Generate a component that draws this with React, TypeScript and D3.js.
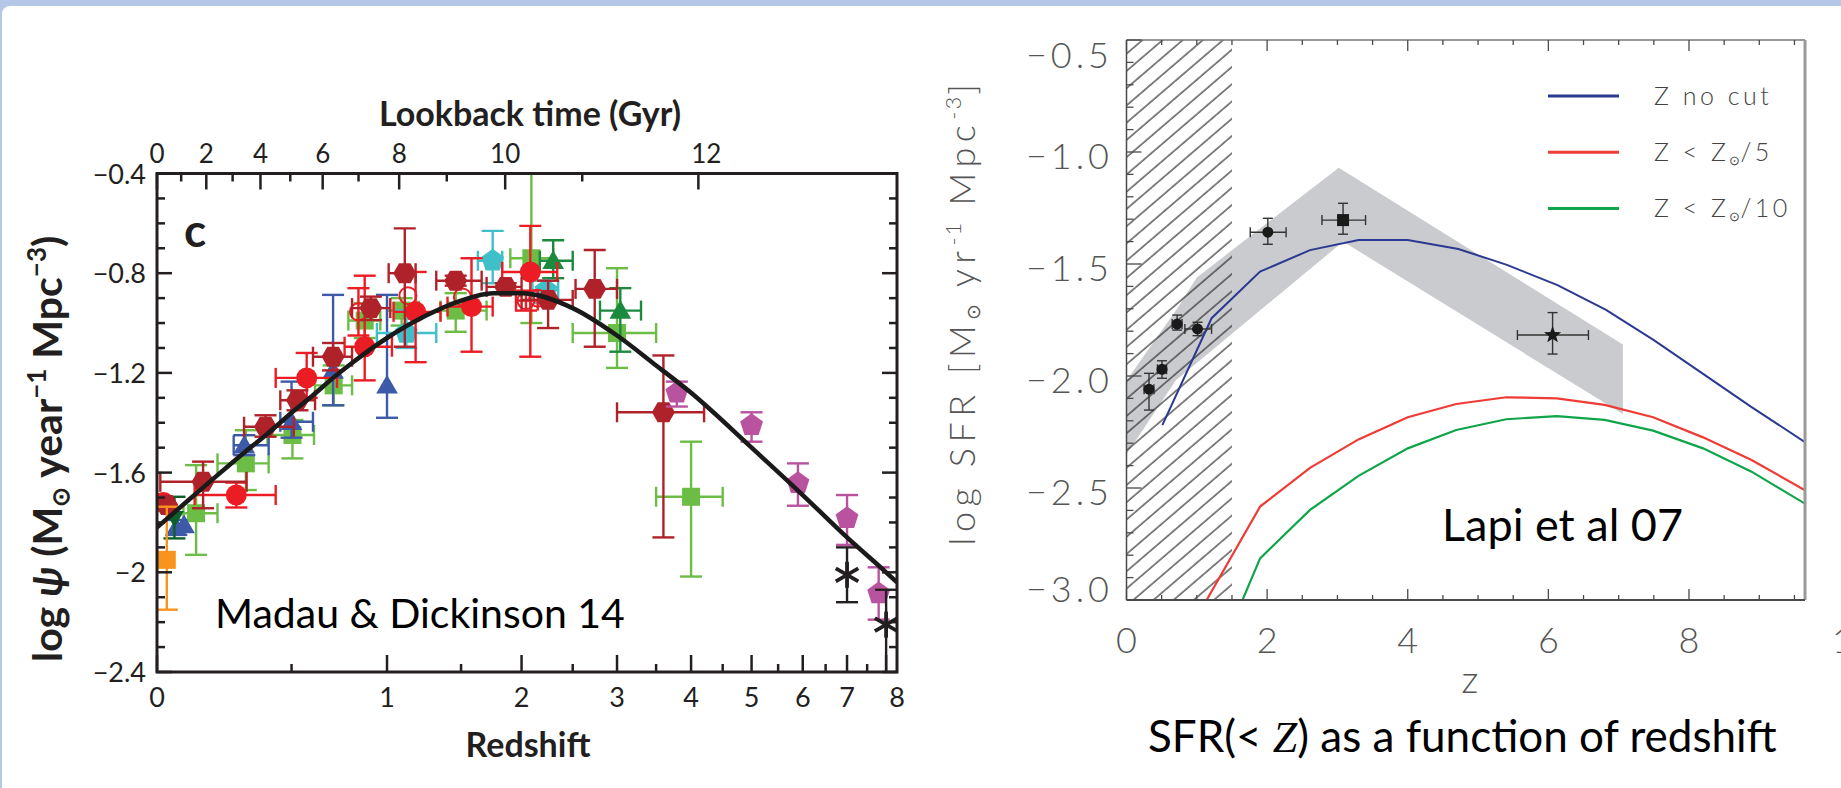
import React from 'react';
import * as d3 from 'd3';

type Pt = [number, number, number | null, number | null, number | null, number | null];
// [z, log value, z low, z high, value high, value low]

const W = 1841;
const H = 788;

// ---------------- Madau & Dickinson panel ----------------
const mdYMajor = [-0.4, -0.8, -1.2, -1.6, -2.0, -2.4];
const mdYLabels = ['−0.4', '−0.8', '−1.2', '−1.6', '−2', '−2.4'];
const mdZMajor = [0, 1, 2, 3, 4, 5, 6, 7, 8];
const mdZMinor = [0.5, 1.5, 2.5, 3.5, 4.5, 5.5, 6.5, 7.5];
const lookbackMajor = [0, 2, 4, 6, 8, 10, 12];
const lookbackMinor = [1, 3, 5, 7, 9, 11];

// best-fit curve
const fitZ = [0, 0.1, 0.2, 0.3, 0.4, 0.5, 0.6, 0.7, 0.8, 1.0, 1.25, 1.5, 1.75, 2.0, 2.5, 3.0, 3.5, 4.0, 5.0, 6.0, 7.0, 8.0, 8.3];
const fitLog = [-1.82, -1.71, -1.61, -1.52, -1.44, -1.36, -1.29, -1.22, -1.16, -1.06, -0.97, -0.91, -0.88, -0.88, -0.94, -1.05, -1.17, -1.28, -1.5, -1.69, -1.86, -2.0, -2.04];

const greenSquares: Pt[] = [
  [0.125, -1.763, 0.083, 0.2, -1.57, -1.93],
  [0.307, -1.563, 0.2, 0.4, -1.43, -1.67],
  [0.504, -1.449, 0.395, 0.605, -1.389, -1.543],
  [0.703, -1.25, 0.61, 0.8, -1.17, -1.33],
  [0.87, -0.99, 0.78, 0.96, -0.92, -1.06],
  [1.09, -0.95, 1.0, 1.2, -0.9, -1.01],
  [1.46, -0.95, 1.35, 1.7, -0.88, -1.035],
  [2.09, -0.74, 1.9, 2.3, -0.36, -1.0],
  [3.0, -1.04, 2.5, 3.5, -0.78, -1.18],
  [4.0, -1.697, 3.5, 4.5, -1.476, -2.017],
];
const blueTriangles: Pt[] = [
  [0.06, -1.82, null, null, -1.79, -1.85],
  [0.085, -1.81, null, null, null, null],
  [0.301, -1.49, 0.26, 0.4, -1.45, -1.53],
  [0.5, -1.396, 0.45, 0.6, -1.235, -1.46],
  [0.7, -1.19, null, null, -0.887, -1.33],
  [1.0, -1.25, null, null, -0.887, -1.38],
];
const darkGreenUp: Pt[] = [
  [2.3, -0.75, 2.17, 2.5, -0.668, -0.82],
  [3.04, -0.95, 2.8, 3.3, -0.86, -1.115],
];
const darkGreenDown: Pt[] = [[0.054, -1.784, null, null, -1.697, -1.864]];
const cyanPentagons: Pt[] = [
  [1.12, -1.04, 0.94, 1.32, -0.95, -1.1],
  [1.75, -0.75, 1.63, 1.83, -0.63, -0.84],
  [2.23, -0.868, 2.1, 2.35, -0.83, -0.92],
];
const redOpen: Pt[] = [
  [0.835, -0.955, null, null, -0.86, -1.05],
  [1.13, -0.89, null, null, null, null],
  [1.51, -0.895, null, null, null, null],
  [2.04, -0.91, 1.95, 2.15, -0.87, -0.95],
  [2.15, -0.9, null, null, null, null],
];
const redFilled: Pt[] = [
  [0.02, -1.72, null, null, null, null],
  [0.27, -1.69, 0.12, 0.43, -1.64, -1.74],
  [0.57, -1.22, 0.43, 0.72, -1.12, -1.3],
  [0.87, -1.095, 0.76, 1.03, -0.81, -1.23],
  [1.18, -0.955, 1.04, 1.35, -0.795, -1.157],
  [1.58, -0.934, 1.4, 1.75, -0.74, -1.115],
  [2.08, -0.795, 1.83, 2.34, -0.61, -1.135],
];
const brownHexagons: Pt[] = [
  [0.03, -1.73, null, null, null, null],
  [0.149, -1.637, 0.01, 0.31, -1.556, -1.743],
  [0.387, -1.416, 0.3, 0.51, -1.37, -1.456],
  [0.527, -1.31, 0.45, 0.61, -1.27, -1.35],
  [0.7, -1.135, 0.6, 0.8, -1.08, -1.19],
  [0.905, -0.94, 0.8, 1.02, -0.894, -0.988],
  [1.11, -0.8, 1.01, 1.18, -0.62, -1.095],
  [1.46, -0.83, 1.32, 1.66, -0.81, -0.85],
  [1.86, -0.855, 1.7, 2.0, -0.84, -0.88],
  [2.25, -0.907, 2.0, 2.5, -0.83, -1.02],
  [2.74, -0.863, 2.53, 3.0, -0.707, -1.095],
  [3.6, -1.358, 3.0, 4.2, -1.13, -1.86],
];
const magentaPentagons: Pt[] = [
  [3.79, -1.28, null, null, -1.235, -1.335],
  [5.0, -1.41, null, null, -1.358, -1.476],
  [5.9, -1.643, null, null, -1.563, -1.733],
  [7.0, -1.783, null, null, -1.69, -1.89],
  [7.8, -2.085, null, null, -1.98, -2.19],
];
const orangeSquares: Pt[] = [[0.03, -1.95, null, null, -1.737, -2.15]];
const blackStars: Pt[] = [
  [7.0, -2.01, null, null, -1.9, -2.12],
  [8.0, -2.21, null, null, -2.07, -2.45],
];

// ---------------- Lapi et al. panel ----------------
const lpYMajor = [-0.5, -1.0, -1.5, -2.0, -2.5, -3.0];
const lpYLabels = ['−0.5', '−1.0', '−1.5', '−2.0', '−2.5', '−3.0'];
const lpXMajor = [0, 2, 4, 6, 8];

const noCutZ = [0.51, 1.21, 1.9, 2.61, 3.3, 4.0, 4.72, 5.41, 6.13, 6.82, 7.5, 8.19, 8.88, 9.65];
const noCutV = [-2.219, -1.742, -1.534, -1.438, -1.393, -1.393, -1.433, -1.504, -1.594, -1.705, -1.84, -1.988, -2.137, -2.295];
const fifthZ = [1.14, 1.9, 2.61, 3.3, 4.0, 4.69, 5.4, 6.12, 6.8, 7.49, 8.2, 8.89, 9.65];
const fifthV = [-3.0, -2.583, -2.41, -2.283, -2.184, -2.125, -2.095, -2.1, -2.129, -2.184, -2.274, -2.375, -2.51];
const tenthZ = [1.65, 1.9, 2.61, 3.3, 4.0, 4.69, 5.4, 6.12, 6.8, 7.49, 8.2, 8.89, 9.65];
const tenthV = [-3.0, -2.814, -2.598, -2.446, -2.323, -2.241, -2.193, -2.179, -2.196, -2.244, -2.323, -2.427, -2.57];

const bandZ = [0, 0.72, 1.0, 3.02, 7.06, 7.06, 3.08, 0.7, 0];
const bandV = [-2.02, -1.7, -1.56, -1.07, -1.86, -2.17, -1.4, -2.02, -2.35];

const obsCircles: Pt[] = [
  [0.32, -2.059, 0.25, 0.39, -1.988, -2.152],
  [0.505, -1.97, 0.44, 0.57, -1.932, -2.01],
  [0.72, -1.768, 0.65, 0.79, -1.728, -1.795],
  [1.01, -1.79, 0.83, 1.21, -1.76, -1.82],
  [2.01, -1.358, 1.76, 2.27, -1.296, -1.412],
];
const obsSquares: Pt[] = [[3.08, -1.304, 2.78, 3.4, -1.229, -1.367]];
const obsStars: Pt[] = [[6.06, -1.817, 5.56, 6.57, -1.717, -1.902]];

const legendNames = ['Z no cut', 'Z < Z', 'Z < Z'];
const legendSuffix = ['', '/5', '/10'];
const legendColors = ['#2b3990', '#ef3b36', '#10a54a'];

// ---------------- helpers ----------------
const LATO = "'Lato', 'Open Sans', 'Liberation Sans', sans-serif";

function polyPath(cx: number, cy: number, n: number, r: number, rot: number) {
  const pts = d3.range(n).map((i) => {
    const a = rot + (i * 2 * Math.PI) / n;
    return [cx + r * Math.sin(a), cy - r * Math.cos(a)];
  });
  return 'M' + pts.map((p) => p[0].toFixed(2) + ',' + p[1].toFixed(2)).join('L') + 'Z';
}

function starPath(cx: number, cy: number, ro: number, ri: number) {
  const pts = d3.range(10).map((i) => {
    const a = (i * Math.PI) / 5;
    const r = i % 2 === 0 ? ro : ri;
    return [cx + r * Math.sin(a), cy - r * Math.cos(a)];
  });
  return 'M' + pts.map((p) => p[0].toFixed(2) + ',' + p[1].toFixed(2)).join('L') + 'Z';
}

// lookback time (Gyr) -> redshift, flat LCDM with H0=70, Om=0.3
const hubbleTime = 977.8 / 70;
const omM = 0.3;
const omL = 0.7;
const cA = ((2 / 3) * hubbleTime) / Math.sqrt(omL);
const cB = Math.sqrt(omL / omM);
const ageNow = cA * Math.asinh(cB);
function zAtLookback(t: number) {
  const s = Math.sinh((ageNow - t) / cA) / cB;
  return Math.pow(s, -2 / 3) - 1;
}

function ErrorBars({
  pts, sx, sy, color, width, capY, capX,
}: {
  pts: Pt[]; sx: (z: number) => number; sy: (v: number) => number; color: string; width: number; capY: number; capX: number;
}) {
  return (
    <g stroke={color} strokeWidth={width} fill="none">
      {pts.map((p, i) => {
        const cx = sx(p[0]);
        const cy = sy(p[1]);
        const els: React.ReactNode[] = [];
        if (p[2] !== null && p[3] !== null) {
          const a = sx(p[2]);
          const b = sx(p[3]);
          els.push(<line key="h" x1={a} x2={b} y1={cy} y2={cy} />);
          els.push(<line key="ha" x1={a} x2={a} y1={cy - capX} y2={cy + capX} />);
          els.push(<line key="hb" x1={b} x2={b} y1={cy - capX} y2={cy + capX} />);
        }
        if (p[4] !== null && p[5] !== null) {
          const a = sy(p[4]);
          const b = sy(p[5]);
          els.push(<line key="v" x1={cx} x2={cx} y1={a} y2={b} />);
          els.push(<line key="va" x1={cx - capY} x2={cx + capY} y1={a} y2={a} />);
          els.push(<line key="vb" x1={cx - capY} x2={cx + capY} y1={b} y2={b} />);
        }
        return <g key={i}>{els}</g>;
      })}
    </g>
  );
}

function MadauPanel() {
  const x0 = 157, x1 = 897, y0 = 173.5, y1 = 672;
  const xs = d3.scaleLog().domain([1, 9.3]).range([x0, x1]);
  const sx = (z: number) => xs(1 + z);
  const sy = d3.scaleLinear().domain([-0.4, -2.4]).range([y0, y1]);
  const ink = '#231f20';

  const fitLine = d3
    .line<number>()
    .x((i) => sx(fitZ[i]))
    .y((i) => sy(fitLog[i]))
    .curve(d3.curveMonotoneX);

  const yMinor = d3.range(0, 21).map((i) => -0.4 - i * 0.1);

  const series: { pts: Pt[]; color: string; kind: string }[] = [
    { pts: greenSquares, color: '#6cbd45', kind: 'square' },
    { pts: blueTriangles, color: '#3d5aa8', kind: 'tri' },
    { pts: darkGreenUp, color: '#1b8a3e', kind: 'tri' },
    { pts: darkGreenDown, color: '#0f5f2c', kind: 'triDown' },
    { pts: cyanPentagons, color: '#3fc0c9', kind: 'pent' },
    { pts: redOpen, color: '#ec1c24', kind: 'open' },
    { pts: redFilled, color: '#ec1c24', kind: 'circle' },
    { pts: brownHexagons, color: '#b0222a', kind: 'hex' },
    { pts: magentaPentagons, color: '#b9529f', kind: 'pent' },
    { pts: orangeSquares, color: '#f7941d', kind: 'square' },
    { pts: blackStars, color: '#231f20', kind: 'asterisk' },
  ];

  const marker = (kind: string, cx: number, cy: number, color: string, key: number) => {
    switch (kind) {
      case 'square':
        return <rect key={key} x={cx - 9} y={cy - 9} width={18} height={18} fill={color} />;
      case 'tri':
        return <path key={key} d={polyPath(cx, cy + 2, 3, 12.5, 0)} fill={color} />;
      case 'triDown':
        return <path key={key} d={polyPath(cx, cy - 2, 3, 11, Math.PI)} fill={color} />;
      case 'pent':
        return <path key={key} d={polyPath(cx, cy, 5, 12, 0)} fill={color} />;
      case 'open':
        return <circle key={key} cx={cx} cy={cy} r={8.5} fill="none" stroke={color} strokeWidth={2} />;
      case 'circle':
        return <circle key={key} cx={cx} cy={cy} r={10.5} fill={color} />;
      case 'hex':
        return <path key={key} d={polyPath(cx, cy, 6, 11.5, Math.PI / 6)} fill={color} />;
      case 'asterisk':
        return (
          <g key={key} stroke={color} strokeWidth={3.8}>
            {[90, 30, 150].map((a) => {
              const r = 13;
              const dx = r * Math.cos((a * Math.PI) / 180);
              const dy = r * Math.sin((a * Math.PI) / 180);
              return <line key={a} x1={cx - dx} y1={cy - dy} x2={cx + dx} y2={cy + dy} />;
            })}
          </g>
        );
      default:
        return null;
    }
  };

  return (
    <g>
      <defs>
        <clipPath id="mdClip">
          <rect x={x0} y={y0} width={x1 - x0} height={y1 - y0} />
        </clipPath>
      </defs>

      {/* data */}
      <g clipPath="url(#mdClip)">
        {series.map((s, si) => (
          <g key={si}>
            <ErrorBars pts={s.pts} sx={sx} sy={sy} color={s.color} width={2.4} capY={11} capX={10} />
            {s.pts.map((p, i) => marker(s.kind, sx(p[0]), sy(p[1]), s.color, i))}
          </g>
        ))}
        <path d={fitLine(d3.range(fitZ.length)) || ''} fill="none" stroke="#1a1a1a" strokeWidth={4.5} />
      </g>

      {/* frame */}
      <rect x={x0} y={y0} width={x1 - x0} height={y1 - y0} fill="none" stroke={ink} strokeWidth={3} />

      {/* ticks */}
      <g stroke={ink} strokeWidth={2.5}>
        {yMinor.map((v, i) => {
          const len = i % 4 === 0 ? 15 : 8;
          return (
            <g key={i}>
              <line x1={x0} x2={x0 + len} y1={sy(v)} y2={sy(v)} />
              <line x1={x1} x2={x1 - len} y1={sy(v)} y2={sy(v)} />
            </g>
          );
        })}
        {mdZMajor.map((z) => (
          <line key={'M' + z} x1={sx(z)} x2={sx(z)} y1={y1} y2={y1 - 17} />
        ))}
        {mdZMinor.map((z) => (
          <line key={'m' + z} x1={sx(z)} x2={sx(z)} y1={y1} y2={y1 - 8} />
        ))}
        {lookbackMajor.map((t) => (
          <line key={'T' + t} x1={sx(zAtLookback(t))} x2={sx(zAtLookback(t))} y1={y0} y2={y0 + 16} />
        ))}
        {lookbackMinor.map((t) => (
          <line key={'t' + t} x1={sx(zAtLookback(t))} x2={sx(zAtLookback(t))} y1={y0} y2={y0 + 8} />
        ))}
      </g>

      {/* tick labels */}
      <g fontFamily={LATO} fill={ink}>
        {mdYMajor.map((v, i) => (
          <text key={v} x={146} y={sy(v) + 10} fontSize={27} textAnchor="end">
            {mdYLabels[i]}
          </text>
        ))}
        {mdZMajor.map((z) => (
          <text key={z} x={sx(z) + (z === 8 ? 11 : 0)} y={707} fontSize={27} textAnchor="middle">
            {String(z)}
          </text>
        ))}
        {lookbackMajor.map((t) => (
          <text key={t} x={sx(zAtLookback(t)) + (t === 12 ? 8 : 0)} y={163} fontSize={26} textAnchor="middle">
            {String(t)}
          </text>
        ))}
      </g>

      {/* axis titles */}
      <g fontFamily={LATO} fontWeight={700} fill={ink}>
        <text x={530} y={126} fontSize={34} textAnchor="middle">
          Lookback time (Gyr)
        </text>
        <text x={528} y={757} fontSize={34} textAnchor="middle">
          Redshift
        </text>
        <text x={184} y={247} fontSize={46}>
          c
        </text>
        <text transform="translate(62,662) rotate(-90)" fontSize={41} textAnchor="start">
          <tspan>log </tspan>
          <tspan fontStyle="italic">ψ</tspan>
          <tspan> (M</tspan>
          <tspan fontSize={24} dy={7}>⊙</tspan>
          <tspan dy={-7}> year</tspan>
          <tspan fontSize={26} dy={-16}>−1</tspan>
          <tspan dy={16}> Mpc</tspan>
          <tspan fontSize={26} dy={-16}>−3</tspan>
          <tspan dy={16}>)</tspan>
        </text>
      </g>

      <text x={215} y={628} fontFamily={LATO} fontSize={41} fill="#000">
        Madau &amp; Dickinson 14
      </text>
    </g>
  );
}

function LapiPanel() {
  const x0 = 1126.5, x1 = 1805, y0 = 40, y1 = 600;
  const sx = d3.scaleLinear().domain([0, 9.65]).range([x0, x1]);
  const sy = d3.scaleLinear().domain([-0.5, -3.0]).range([y0, y1]);
  const axis = '#4a4a4a';
  const thin = '#555';

  const lineOf = (zs: number[], vs: number[]) =>
    d3
      .line<number>()
      .x((i) => sx(zs[i]))
      .y((i) => sy(vs[i]))(d3.range(zs.length)) || '';

  const bandPts = bandZ.map((z, i) => sx(z).toFixed(1) + ',' + sy(bandV[i]).toFixed(1)).join(' ');

  const yTicks = d3.range(0, 26).map((i) => -0.5 - i * 0.1);
  const xTicks = d3.range(0, 20).map((i) => i * 0.5);

  const yLabelShift = (i: number) => (i === 0 ? 15 : i === lpYMajor.length - 1 ? -11 : 4);

  return (
    <g>
      <defs>
        <clipPath id="lpClip">
          <rect x={x0} y={y0} width={x1 - x0} height={y1 - y0} />
        </clipPath>
        <pattern id="hatch" patternUnits="userSpaceOnUse" width={24} height={13.1} patternTransform="rotate(-40.6)">
          <line x1={0} x2={24} y1={1} y2={1} stroke="#1e1e1e" strokeWidth={1.1} />
        </pattern>
      </defs>

      <g clipPath="url(#lpClip)">
        <polygon points={bandPts} fill="#c9cbce" />
        <rect x={sx(0)} y={y0} width={sx(1.5) - sx(0)} height={y1 - y0} fill="url(#hatch)" />
        <path d={lineOf(noCutZ, noCutV)} fill="none" stroke={legendColors[0]} strokeWidth={2} />
        <path d={lineOf(fifthZ, fifthV)} fill="none" stroke={legendColors[1]} strokeWidth={2.2} />
        <path d={lineOf(tenthZ, tenthV)} fill="none" stroke={legendColors[2]} strokeWidth={2.2} />
      </g>

      {/* observations */}
      <ErrorBars pts={obsCircles} sx={sx} sy={sy} color="#333" width={1.4} capY={5} capX={5} />
      <ErrorBars pts={obsSquares} sx={sx} sy={sy} color="#333" width={1.4} capY={5} capX={5} />
      <ErrorBars pts={obsStars} sx={sx} sy={sy} color="#333" width={1.4} capY={5} capX={5} />
      {obsCircles.map((p, i) => (
        <circle key={i} cx={sx(p[0])} cy={sy(p[1])} r={5.5} fill="#1a1a1a" />
      ))}
      {obsSquares.map((p, i) => (
        <rect key={i} x={sx(p[0]) - 6} y={sy(p[1]) - 6} width={12} height={12} fill="#1a1a1a" />
      ))}
      {obsStars.map((p, i) => (
        <path key={i} d={starPath(sx(p[0]), sy(p[1]), 9, 3.8)} fill="#1a1a1a" />
      ))}

      {/* frame */}
      <line x1={x0} x2={x1} y1={y0} y2={y0} stroke="#777" strokeWidth={1.5} />
      <line x1={x1} x2={x1} y1={y0} y2={y1} stroke="#9a9a9a" strokeWidth={3} />
      <line x1={x0} x2={x0} y1={y0} y2={y1} stroke={axis} strokeWidth={1.5} />
      <line x1={x0} x2={x1} y1={y1} y2={y1} stroke={axis} strokeWidth={1.8} />

      <g stroke={axis} strokeWidth={1.3}>
        {yTicks.map((v, i) => {
          const len = i % 5 === 0 ? 15 : 7;
          return <line key={i} x1={x0} x2={x0 + len} y1={sy(v)} y2={sy(v)} />;
        })}
        {xTicks.map((z, i) => {
          const len = i % 4 === 0 ? 11 : 5;
          return (
            <g key={i}>
              <line x1={sx(z)} x2={sx(z)} y1={y1} y2={y1 - len} />
              <line x1={sx(z)} x2={sx(z)} y1={y0} y2={y0 + len} />
            </g>
          );
        })}
      </g>

      {/* tick labels */}
      <g fontFamily={LATO} fontWeight={300} fill={thin} letterSpacing={4}>
        {lpYMajor.map((v, i) => (
          <text key={v} x={1113} y={sy(v) + yLabelShift(i) + 13} fontSize={36} textAnchor="end">
            {lpYLabels[i]}
          </text>
        ))}
        {lpXMajor.map((z) => (
          <text key={z} x={sx(z) + 2} y={653} fontSize={36} textAnchor="middle">
            {String(z)}
          </text>
        ))}
        <text x={1832} y={653} fontSize={36}>
          10
        </text>
        <text x={1472} y={693} fontSize={38} textAnchor="middle">
          z
        </text>
        <text transform="translate(975,312) rotate(-90)" fontSize={36} textAnchor="middle" letterSpacing={5.5}>
          <tspan>log SFR [M</tspan>
          <tspan fontSize={19} dy={5} letterSpacing={2}>⊙</tspan>
          <tspan dy={-5}> yr</tspan>
          <tspan fontSize={22} dy={-14} letterSpacing={2}>-1</tspan>
          <tspan dy={14}> Mpc</tspan>
          <tspan fontSize={22} dy={-14} letterSpacing={2}>-3</tspan>
          <tspan dy={14}>]</tspan>
        </text>
      </g>

      {/* legend */}
      {legendNames.map((name, i) => {
        const ly = 96 + i * 56.2;
        return (
          <g key={i}>
            <line x1={1548} x2={1619} y1={ly} y2={ly} stroke={legendColors[i]} strokeWidth={3} />
            <text x={1654} y={ly + 9} fontFamily={LATO} fontWeight={300} fontSize={25} fill="#444" letterSpacing={3.5}>
              <tspan>{name}</tspan>
              {i > 0 && (
                <tspan fontSize={13} dy={4} letterSpacing={0}>
                  ⊙
                </tspan>
              )}
              {i > 0 && <tspan dy={-4}>{legendSuffix[i]}</tspan>}
            </text>
          </g>
        );
      })}

      <text x={1442} y={541} fontFamily={LATO} fontSize={45} fill="#000">
        Lapi et al 07
      </text>
      <text x={1148} y={752} fontFamily={LATO} fontSize={44} fill="#000">
        <tspan>SFR(&lt; </tspan>
        <tspan fontFamily="'Liberation Serif', serif" fontStyle="italic">Z</tspan>
        <tspan>) as a function of redshift</tspan>
      </text>
    </g>
  );
}

export default function App() {
  return (
    <svg
      width={W}
      height={H}
      viewBox={`0 0 ${W} ${H}`}
      style={{ position: 'absolute', left: 0, top: 0, display: 'block' }}
    >
      <rect x={0} y={0} width={W} height={H} fill="#b4c7e7" />
      <rect x={2} y={6} width={W + 10} height={H + 10} rx={8} fill="#ffffff" />
      <MadauPanel />
      <LapiPanel />
    </svg>
  );
}
